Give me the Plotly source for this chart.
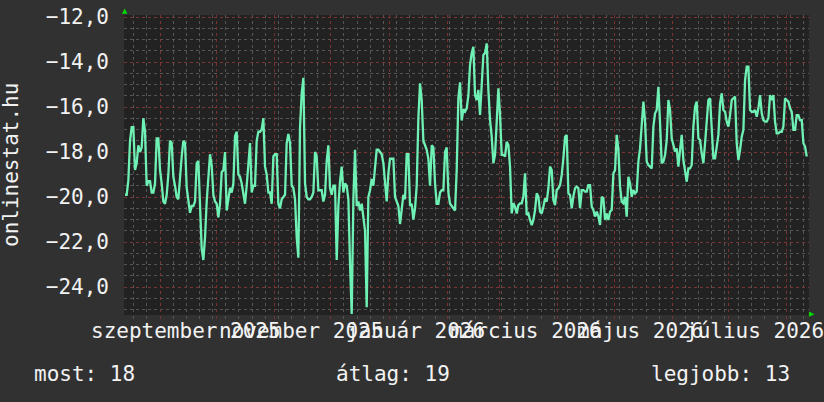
import pandas as pd
import plotly.graph_objects as go

# ---- data ----
series_start = "2025-08-13 08:00"
series_end = "2026-08-11 14:00"
axis_range = ["2025-08-12 19:00", "2026-08-12 19:00"]

rank_values = [
    -19.9, -19.9, -19.25, -17.5, -16.9, -16.9, -18.8, -18.5, -17.7, -18.0,
    -17.8, -16.5, -17.1, -19.5, -19.3, -19.3, -19.8, -19.8, -19.4, -17.4,
    -17.4, -18.8, -19.4, -20.2, -20.3, -19.9, -19.0, -17.5, -17.6, -19.1,
    -19.5, -20.0, -20.1, -19.0, -18.2, -17.5, -17.6, -19.6, -20.2, -20.7,
    -20.4, -20.4, -20.2, -18.5, -18.4, -20.45, -22.3, -22.8, -21.8, -20.2,
    -19.3, -18.1, -18.6, -19.9, -20.2, -20.3, -20.9, -20.3, -18.9, -18.8,
    -18.0, -20.6, -20.1, -19.6, -19.8, -19.4, -17.3, -17.1, -19.0,
    -19.1, -19.4, -19.8, -20.3, -19.5, -18.6, -17.6, -19.8, -19.5, -19.5,
    -17.5, -17.1, -17.1, -17.0, -16.5, -18.65, -19.0, -19.8, -19.8, -20.3,
    -18.2, -18.1, -18.1, -20.3, -20.5, -20.1, -20.0, -19.9, -17.6, -17.2,
    -17.6, -19.5, -19.6, -20.1, -21.8, -22.7, -16.9, -15.4, -14.7, -19.4,
    -20.0, -20.1, -20.1, -20.0, -19.8, -18.0, -18.2, -19.7, -19.7, -19.7,
    -20.2, -19.9, -18.4, -17.7, -19.6, -19.9, -19.5, -19.5, -22.8, -20.4,
    -19.3, -18.65, -19.8, -19.4, -19.5, -20.1, -22.95, -25.2,
    -20.1, -17.9, -20.4, -20.2, -20.6, -20.3, -20.9, -21.5, -24.9, -20.0,
    -19.7, -19.2, -19.5, -18.6, -17.9, -17.9, -18.0, -18.1, -18.5, -19.5,
    -20.2, -18.95, -18.3, -18.3, -18.3, -20.0, -20.2, -20.4, -21.2, -20.6,
    -19.9, -20.1, -18.1, -18.1, -20.4, -20.3, -21.0, -20.5, -19.5, -16.5,
    -14.95, -15.7, -17.5, -17.7, -17.9, -18.3, -19.5, -17.7, -17.8, -19.4,
    -20.3, -20.3, -19.8, -19.7, -19.7, -18.0, -17.8, -19.8, -20.3, -20.4,
    -20.5, -20.6, -18.8, -15.6, -14.9, -16.6, -16.1, -16.2, -16.06, -15.5,
    -14.13, -13.6, -13.32, -15.47, -15.69, -15.24, -16.35, -15.24, -13.69, -13.6,
    -13.17, -15.24, -16.58, -17.32, -18.5, -18.13, -16.87, -15.17, -16.35, -18.13,
    -18.13, -18.2, -17.54, -17.69, -18.65, -20.73, -20.28, -20.43, -20.73, -20.36,
    -20.28, -20.28, -19.98, -18.95, -20.8, -20.73, -21.02, -21.25, -21.02, -20.58,
    -19.84, -19.98, -20.65, -20.73, -20.43, -20.06, -20.21, -19.61, -18.65, -18.8,
    -20.13, -20.36, -19.69, -19.61, -19.47, -19.02, -18.28, -17.32, -17.24, -19.84,
    -19.91, -20.5, -19.98, -19.61, -19.54, -19.61, -20.5, -19.69, -19.69,
    -19.76, -19.76, -19.47, -19.47, -20.43, -20.58, -20.87, -20.65, -20.87, -21.24,
    -19.99, -20.06, -21.02, -20.73, -21.02, -20.65, -20.58, -18.95, -18.8, -17.24,
    -17.91, -19.54, -20.21, -20.28, -19.99, -20.87, -19.1, -19.39, -19.99, -19.69,
    -19.84, -19.76, -18.43, -17.84, -16.58, -15.76, -16.65, -18.43, -18.58, -18.65,
    -18.73, -16.87, -16.28, -16.13, -15.1, -16.73, -18.5, -18.43, -18.13, -17.47,
    -15.69, -16.13, -17.39, -17.69, -17.99, -17.84, -18.65, -17.91, -17.24, -18.36,
    -18.8, -19.32, -18.73, -18.73, -18.58, -16.87, -15.99, -15.76, -17.39,
    -17.47, -18.06, -18.5, -17.61, -16.5, -15.69, -15.61, -17.32, -18.28, -18.28,
    -17.69, -17.24, -15.84, -15.39, -16.13, -16.21, -16.65, -16.87, -16.36, -15.69,
    -15.61, -15.54, -17.61, -18.36, -17.91, -17.32, -17.02, -14.8, -14.21, -14.21,
    -16.13, -16.21, -16.21, -16.13, -16.43, -16.06, -15.47, -16.28, -16.58, -16.65,
    -16.65, -16.5, -15.47, -15.69, -15.47, -16.65, -17.17, -17.17, -17.1, -17.1,
    -16.87, -15.61, -15.69, -15.76, -16.06, -16.21, -17.02, -17.02, -16.36, -16.36,
    -16.58, -16.58, -17.61, -17.76, -18.2,
]

month_starts = ["2025-09-01", "2025-10-01", "2025-11-01", "2025-12-01",
                "2026-01-01", "2026-02-01", "2026-03-01", "2026-04-01",
                "2026-05-01", "2026-06-01", "2026-07-01", "2026-08-01"]
label_dates = ["2025-09-15", "2025-11-15", "2026-01-15",
               "2026-03-15", "2026-05-15", "2026-07-15"]
label_texts = ["szeptember 2025", "november 2025", "január 2026",
               "március 2026", "május 2026", "július 2026"]
y_ticks = [-24, -22, -20, -18, -16, -14, -12]
y_range = [-25.244, -11.911]

timestamps = pd.date_range(series_start, series_end, periods=len(rank_values))

most = round(abs(rank_values[-1]))
atlag = round(abs(sum(rank_values) / len(rank_values)))
legjobb = round(abs(max(rank_values)))

# ---- styling ----
FONT = "DejaVu Sans Mono"
TXT = "#f2f2f2"
MAJOR = "rgba(125,50,50,0.95)"
MINOR = "rgba(88,88,88,0.95)"

fig = go.Figure()
fig.add_trace(go.Scatter(
    x=timestamps, y=rank_values, mode="lines",
    line=dict(color="#6ff0b4", width=2.3), hoverinfo="skip",
))

fig.update_layout(
    width=824, height=402,
    margin=dict(l=124, r=15, t=15, b=87, autoexpand=False),
    paper_bgcolor="#313131", plot_bgcolor="#222222",
    showlegend=False, separators=", ",
    font=dict(family=FONT, size=21, color=TXT),
    xaxis=dict(
        type="date", range=axis_range, automargin=False,
        tickmode="array", tickvals=month_starts, showticklabels=False,
        showgrid=True, gridcolor=MAJOR, griddash="dot", gridwidth=1,
        ticks="outside", ticklen=3, tickcolor=MAJOR,
        minor=dict(tick0="2025-12-01", dtick=7 * 86400000, showgrid=True,
                   gridcolor=MINOR, griddash="dot", gridwidth=1,
                   ticks="outside", ticklen=3, tickcolor=MINOR),
        zeroline=False, showline=False, fixedrange=True,
    ),
    yaxis=dict(
        range=y_range, tickmode="array", tickvals=y_ticks, tickformat=".1f",
        automargin=False,
        showgrid=True, gridcolor=MAJOR, griddash="dot", gridwidth=1,
        minor=dict(dtick=0.5, tick0=-12, showgrid=True, gridcolor=MINOR,
                   griddash="dot", gridwidth=1),
        ticks="", ticklabelstandoff=14, zeroline=False, showline=False,
        tickfont=dict(family=FONT, size=21, color=TXT), fixedrange=True,
    ),
)

annotations = []
for d, t in zip(label_dates, label_texts):
    annotations.append(dict(x=d, xref="x", y=-0.053, yref="paper", text=t,
                            showarrow=False, xanchor="center", yanchor="middle",
                            font=dict(family=FONT, size=21, color=TXT)))

annotations.append(dict(x=(11 - 124) / 685, y=0.5, xref="paper", yref="paper",
                        text="onlinestat.hu", textangle=-90, showarrow=False,
                        xanchor="center", yanchor="middle",
                        font=dict(family=FONT, size=21, color=TXT)))

for px, txt in [(32, f"most: {most}"), (334, f"átlag: {atlag}"),
                (649, f"legjobb: {legjobb}")]:
    annotations.append(dict(x=(px - 124) / 685, y=(315 - 374) / 300,
                            xref="paper", yref="paper", text=txt,
                            showarrow=False, xanchor="left", yanchor="middle",
                            font=dict(family=FONT, size=21, color=TXT)))

annotations.append(dict(x=(125 - 124) / 685, y=(315 - 11) / 300, xref="paper",
                        yref="paper", text="▲", showarrow=False,
                        xanchor="center", yanchor="middle",
                        font=dict(family="DejaVu Sans", size=7, color="#00d800")))
annotations.append(dict(x=(812 - 124) / 685, y=(315 - 314) / 300, xref="paper",
                        yref="paper", text="▶", showarrow=False,
                        xanchor="center", yanchor="middle",
                        font=dict(family="DejaVu Sans", size=7, color="#00d800")))

fig.update_layout(annotations=annotations)
fig.write_html(
    "out.html",
    config={"displayModeBar": False, "staticPlot": True},
    post_script="document.body.style.margin='0';document.body.style.background='#313131';",
)
